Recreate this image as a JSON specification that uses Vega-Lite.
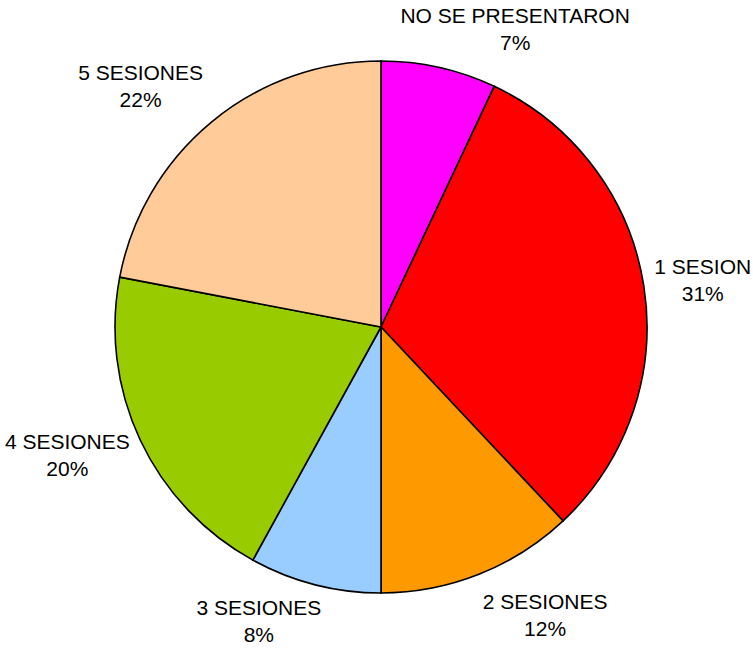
{
  "$schema": "https://vega.github.io/schema/vega-lite/v6.json",
  "width": 744,
  "height": 642,
  "autosize": {"type": "none"},
  "padding": {"left": 9, "top": 6, "right": 0, "bottom": 0},
  "background": "white",
  "config": {
    "view": {"stroke": null},
    "text": {"font": "Liberation Sans", "fontSize": 21, "lineHeight": 27, "lineBreak": "\n", "align": "center", "baseline": "middle", "dy": -13, "color": "black"}
  },
  "data": {
    "values": [
      {"orden": 1, "grupo": "NO SE PRESENTARON", "pct": 7, "etiqueta": "NO SE PRESENTARON\n7%"},
      {"orden": 2, "grupo": "1 SESION", "pct": 31, "etiqueta": "1 SESION\n31%"},
      {"orden": 3, "grupo": "2 SESIONES", "pct": 12, "etiqueta": "2 SESIONES\n12%"},
      {"orden": 4, "grupo": "3 SESIONES", "pct": 8, "etiqueta": "3 SESIONES\n8%"},
      {"orden": 5, "grupo": "4 SESIONES", "pct": 20, "etiqueta": "4 SESIONES\n20%"},
      {"orden": 6, "grupo": "5 SESIONES", "pct": 22, "etiqueta": "5 SESIONES\n22%"}
    ]
  },
  "transform": [
    {"stack": "pct", "groupby": [], "sort": [{"field": "orden", "order": "ascending"}], "as": ["inicio", "fin"]}
  ],
  "encoding": {
    "theta": {"field": "inicio", "type": "quantitative", "scale": {"domain": [0, 100]}},
    "text": {"field": "etiqueta", "type": "nominal"}
  },
  "layer": [
    {
      "mark": {"type": "arc", "outerRadius": 266, "stroke": "black", "strokeWidth": 1.6},
      "encoding": {
        "theta2": {"field": "fin"},
        "text": null,
        "color": {
          "field": "grupo",
          "type": "nominal",
          "legend": null,
          "scale": {
            "domain": ["NO SE PRESENTARON", "1 SESION", "2 SESIONES", "3 SESIONES", "4 SESIONES", "5 SESIONES"],
            "range": ["#FF00FF", "#FF0000", "#FF9900", "#99CCFF", "#99CC00", "#FFCC99"]
          }
        }
      }
    },
    {
      "transform": [{"filter": "datum.orden == 1"}],
      "mark": {"type": "text", "radius": 326, "thetaOffset": 0.424}
    },
    {
      "transform": [{"filter": "datum.orden == 2"}],
      "mark": {"type": "text", "radius": 325, "thetaOffset": 0.990}
    },
    {
      "transform": [{"filter": "datum.orden == 3"}],
      "mark": {"type": "text", "radius": 332, "thetaOffset": 0.237}
    },
    {
      "transform": [{"filter": "datum.orden == 4"}],
      "mark": {"type": "text", "radius": 319, "thetaOffset": 0.393}
    },
    {
      "transform": [{"filter": "datum.orden == 5"}],
      "mark": {"type": "text", "radius": 339, "thetaOffset": 0.679}
    },
    {
      "transform": [{"filter": "datum.orden == 6"}],
      "mark": {"type": "text", "radius": 340, "thetaOffset": 0.597}
    }
  ]
}
